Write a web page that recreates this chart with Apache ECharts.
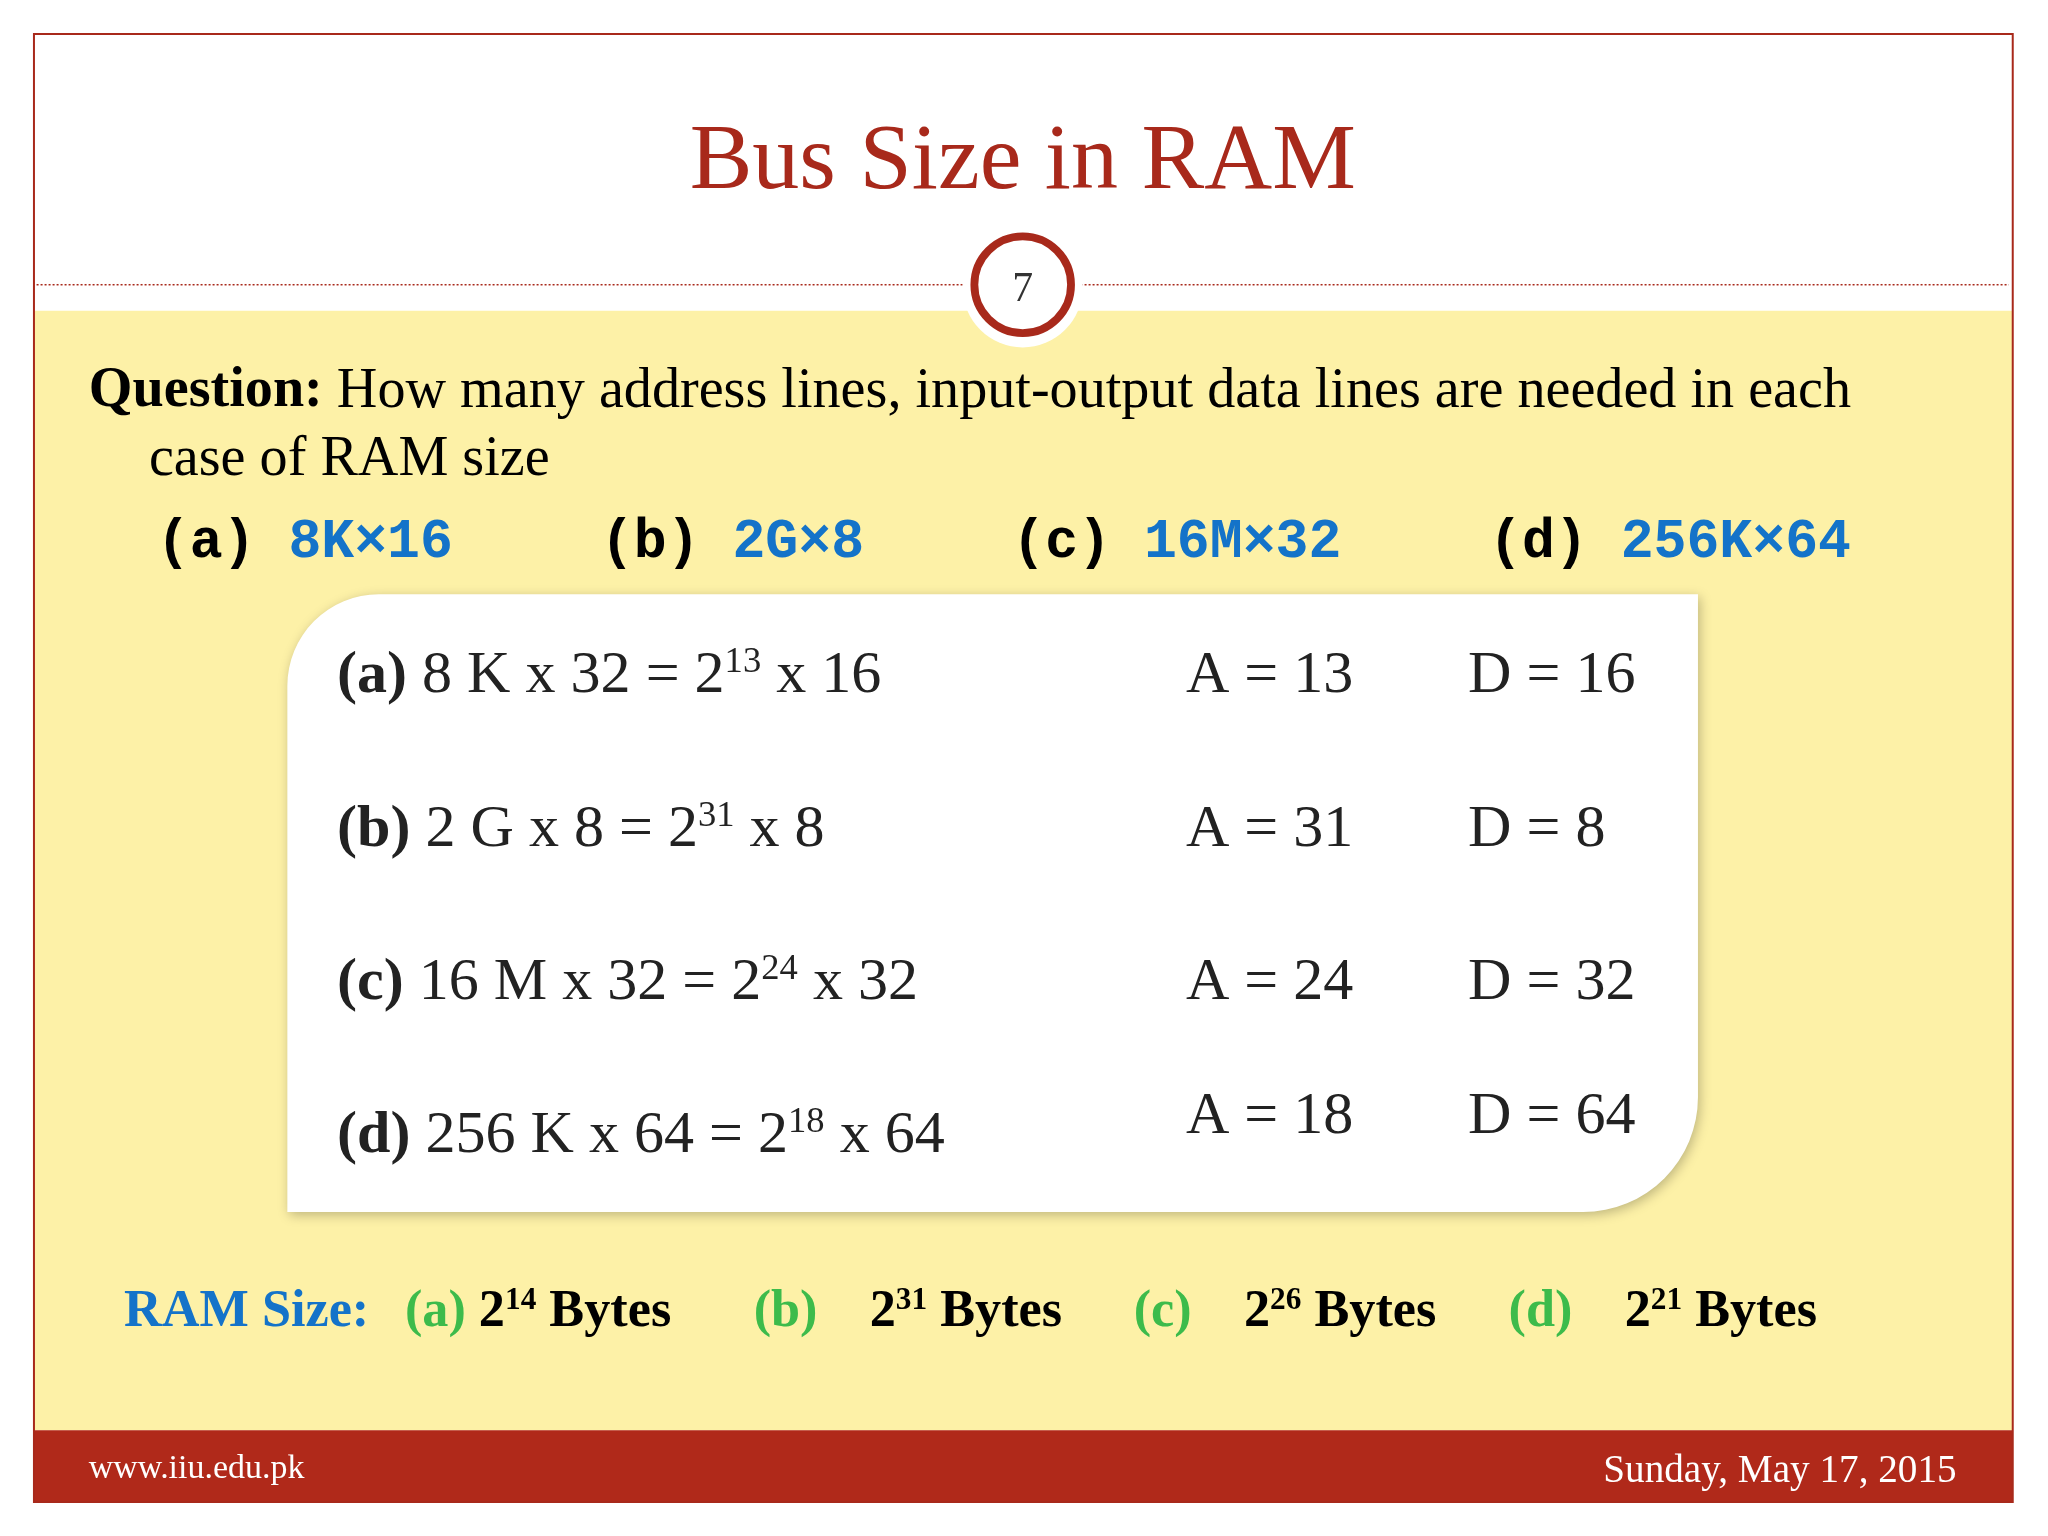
<!DOCTYPE html>
<html><head><meta charset="utf-8">
<script src="https://cdn.jsdelivr.net/npm/echarts@6/dist/echarts.min.js"></script>
<style>html,body{margin:0;padding:0;background:#fff}#c{width:2048px;height:1536px}</style>
</head><body><div id="c"></div>
<script>
const title = "Bus Size in RAM";
const slideNumber = "7";
const questionLines = ["How many address lines, input-output data lines are needed in each", "case of RAM size"];
const caseLabels = ["(a)", "(b)", "(c)", "(d)"];
const caseSizes = ["8K×16", "2G×8", "16M×32", "256K×64"];
const rowLeft = ["8 K x 32 = 2", "2 G x 8 = 2", "16 M x 32 = 2", "256 K x 64 = 2"];
const rowExp = ["13", "31", "24", "18"];
const rowRight = [" x 16", " x 8", " x 32", " x 64"];
const addrLines = [13, 31, 24, 18];
const dataLines = [16, 8, 32, 64];
const ramExp = ["14", "31", "26", "21"];
const footerLeft = "www.iiu.edu.pk";
const footerRight = "Sunday, May 17, 2015";

const S = 2048 / 1568;
const p = v => v * S;
const serif = "'Liberation Serif','DejaVu Serif',serif";
const mono = "'Liberation Mono','DejaVu Sans Mono',monospace";
const red = "#A8291B";
const g = [];

g.push({type:'rect',shape:{x:p(26),y:p(238),width:p(1515),height:p(857)},style:{fill:'#FDF1A7'}});
g.push({type:'rect',shape:{x:p(26),y:p(1095),width:p(1515),height:p(55)},style:{fill:'#B0291A'}});
g.push({type:'rect',shape:{x:p(26),y:p(26),width:p(1515),height:p(1124)},style:{fill:'none',stroke:'#A8291B',lineWidth:2}});
g.push({type:'line',shape:{x1:p(28),y1:p(218),x2:p(1538),y2:p(218)},style:{stroke:'#A8291B',lineWidth:1.5,lineDash:[2,2]}});
g.push({type:'circle',shape:{cx:p(783),cy:p(220),r:p(46)},style:{fill:'#fff'}});
g.push({type:'circle',shape:{cx:p(783),cy:p(218),r:p(37)},style:{fill:'#fff',stroke:'#A8291B',lineWidth:p(6)}});
g.push({type:'text',x:p(783),y:p(222),style:{text:slideNumber,font:`${p(32)}px ${serif}`,fill:'#333',align:'center',verticalAlign:'middle'}});
g.push({type:'text',x:p(783),y:p(125),style:{text:title,font:`${p(72)}px ${serif}`,fill:red,align:'center',verticalAlign:'middle'}});
g.push({type:'text',x:p(68),y:p(300),style:{text:'{b|Question: }{n|'+questionLines[0]+'}',verticalAlign:'middle',
  rich:{b:{font:`bold ${p(43)}px ${serif}`,fill:'#000'},n:{font:`${p(43)}px ${serif}`,fill:'#000'}}}});
g.push({type:'text',x:p(114),y:p(352),style:{text:questionLines[1],font:`${p(43)}px ${serif}`,fill:'#000',verticalAlign:'middle'}});
const caseX = [120, 460, 775, 1140];
caseLabels.forEach((l,i)=>{
  g.push({type:'text',x:p(caseX[i]),y:p(416),style:{text:'{l|'+l+' }{s|'+caseSizes[i]+'}',verticalAlign:'middle',
    rich:{l:{font:`bold ${p(42)}px ${mono}`,fill:'#000'},s:{font:`bold ${p(42)}px ${mono}`,fill:'#1473C9'}}}});
});
g.push({type:'rect',shape:{x:p(220),y:p(455),width:p(1080),height:p(473),r:[p(70),0,p(88),0]},
  style:{fill:'#fff',shadowBlur:12,shadowColor:'rgba(0,0,0,0.25)',shadowOffsetX:2,shadowOffsetY:3}});
const rowY = [518, 636, 753, 870];
const adY = [518, 636, 753, 855];
rowLeft.forEach((t,i)=>{
  g.push({type:'text',x:p(258),y:p(rowY[i]),style:{text:'{b|('+'abcd'[i]+') }{n|'+t+'}{e|'+rowExp[i]+'}{n|'+rowRight[i]+'}',verticalAlign:'middle',
    rich:{b:{font:`bold ${p(46)}px ${serif}`,fill:'#222'},n:{font:`${p(46)}px ${serif}`,fill:'#222'},e:{font:`${p(28)}px ${serif}`,fill:'#222',verticalAlign:'top',padding:[0,0,p(22),0]}}}});
  g.push({type:'text',x:p(908),y:p(adY[i]),style:{text:'A = '+addrLines[i],font:`${p(46)}px ${serif}`,fill:'#222',verticalAlign:'middle'}});
  g.push({type:'text',x:p(1124),y:p(adY[i]),style:{text:'D = '+dataLines[i],font:`${p(46)}px ${serif}`,fill:'#222',verticalAlign:'middle'}});
});
const ramX = [310, 577, 868, 1155];
g.push({type:'text',x:p(95),y:p(1005),style:{text:'RAM Size:',font:`bold ${p(40)}px ${serif}`,fill:'#1473C9',verticalAlign:'middle'}});
ramExp.forEach((e,i)=>{
  g.push({type:'text',x:p(ramX[i]),y:p(1005),style:{text:'{g|('+'abcd'[i]+')'+(i===0?' ':'    ')+'}{n|2}{e|'+e+'}{n| Bytes}',verticalAlign:'middle',
    rich:{g:{font:`bold ${p(40)}px ${serif}`,fill:'#3DBB4B'},n:{font:`bold ${p(40)}px ${serif}`,fill:'#000'},e:{font:`bold ${p(24)}px ${serif}`,fill:'#000',verticalAlign:'top',padding:[0,0,p(18),0]}}}});
});
g.push({type:'text',x:p(68),y:p(1125),style:{text:footerLeft,font:`${p(26)}px ${serif}`,fill:'#fff',verticalAlign:'middle'}});
g.push({type:'text',x:p(1498),y:p(1127),style:{text:footerRight,font:`${p(30)}px ${serif}`,fill:'#fff',align:'right',verticalAlign:'middle'}});

const chart = echarts.init(document.getElementById('c'));
chart.setOption({animation:false,graphic:g});
</script></body></html>
